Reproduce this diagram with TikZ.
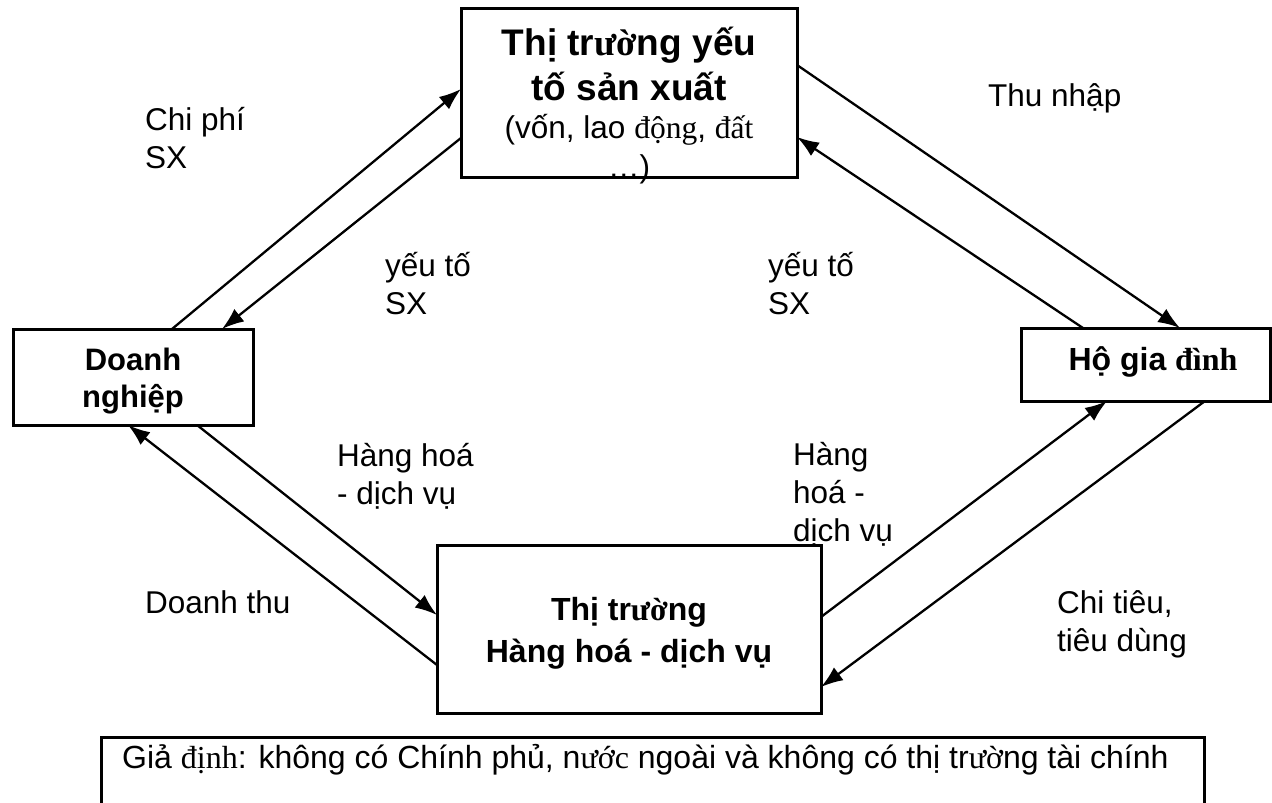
\documentclass[tikz,border=0pt]{standalone}
\usepackage{fontspec}
\setmainfont{Liberation Sans}
\newfontfamily\srf{Liberation Serif}
\usetikzlibrary{arrows.meta,calc}
\begin{document}
\begin{tikzpicture}[x=1pt,y=-1pt,
  box/.style={draw,line width=3pt,inner sep=0pt,outer sep=0pt},
  arr/.style={line width=2.3pt,-{Latex[length=22pt,width=16pt]}},
  lbl/.style={anchor=base west,inner sep=0pt,align=left,font=\fontsize{31.5}{38}\selectfont},
  btxt/.style={anchor=base,inner sep=0pt,align=center,font=\fontsize{32}{37}\selectfont\bfseries},
]
\useasboundingbox (0,0) rectangle (1272,803);
% boxes
\node[box,minimum width=336pt,minimum height=169pt] (top) at (629,92.5) {};
\node[box,minimum width=240pt,minimum height=96pt] (dn) at (133,377) {};
\node[box,minimum width=249pt,minimum height=73pt] (hgd) at (1145.5,364.5) {};
\node[box,minimum width=384pt,minimum height=168pt] (bot) at (629,629) {};
\node[box,minimum width=1103pt,minimum height=73pt] (note) at (652.5,773.5) {};
% box texts (anchor base = baseline of last line)
\node[btxt,font=\fontsize{37}{38}\selectfont\bfseries] (topt) at (629,177)
  {Thị tr{\srf ườ}ng yếu\\[7pt]tố sản xuất\\{\fontsize{31.5}{38}\selectfont\mdseries (vốn, lao {\srf động}, {\srf đất}}\\[1pt]{\fontsize{31.5}{38}\selectfont\mdseries …)}};
\node[btxt,font=\fontsize{31}{37}\selectfont\bfseries] (dnt) at (133,407) {Doanh\\nghiệp};
\node[btxt] (hgdt) at (1153,370) {Hộ gia {\srf đình}};
\node[btxt,font=\fontsize{32}{42}\selectfont\bfseries] (bott) at (629,662) {Thị tr{\srf ườ}ng\\Hàng hoá - dịch vụ};
\node[lbl,font=\fontsize{32}{38}\selectfont] (notet) at (122,768) {Giả {\srf định}: không có Chính phủ, n{\srf ước} ngoài và không có thị tr{\srf ườ}ng tài chính};
% labels (anchor base west = baseline of last line)
\node[lbl] (l1) at (145,168) {Chi phí\\SX};
\node[lbl] (l2) at (385,314) {yếu tố\\SX};
\node[lbl] (l3) at (988,106) {Thu nhập};
\node[lbl] (l4) at (768,314) {yếu tố\\SX};
\node[lbl] (l5) at (337,504) {Hàng hoá\\- dịch vụ};
\node[lbl] (l6) at (793,541) {Hàng\\hoá -\\dịch vụ};
\node[lbl] (l7) at (145,613) {Doanh thu};
\node[lbl] (l8) at (1057,651) {Chi tiêu,\\tiêu dùng};
% arrows
\draw[arr] ($(dn.north west)+(159,0)$) -- ($(top.north west)+(0,81)$);
\draw[arr] ($(top.north west)+(0,130)$) -- ($(dn.north west)+(209,0)$);
\draw[arr] ($(top.north east)+(0,57)$) -- ($(hgd.north west)+(159,0)$);
\draw[arr] ($(hgd.north west)+(62,0)$) -- ($(top.north east)+(0,129)$);
\draw[arr] ($(bot.north east)+(0,72)$) -- ($(hgd.south west)+(86,0)$);
\draw[arr] ($(hgd.south west)+(184,0)$) -- ($(bot.north east)+(0,142)$);
\draw[arr] ($(dn.south west)+(184,0)$) -- ($(bot.north west)+(0,70)$);
\draw[arr] ($(bot.north west)+(0,120)$) -- ($(dn.south west)+(115,0)$);
\end{tikzpicture}
\end{document}
